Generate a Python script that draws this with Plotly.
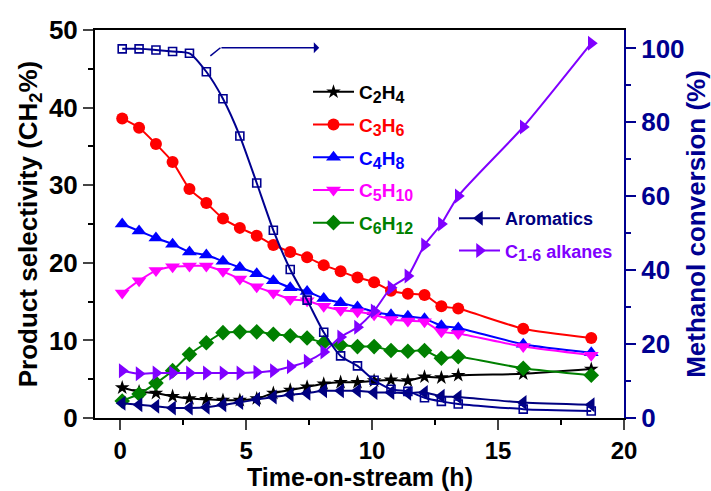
import plotly.graph_objects as go

# ---- data ----
time_h = [0.08, 0.75, 1.42, 2.08, 2.75, 3.42, 4.08, 4.75, 5.42, 6.08, 6.75, 7.42,
          8.08, 8.75, 9.42, 10.08, 10.75, 11.42, 12.08, 12.75, 13.42, 16.0, 18.7]

c2h4 = [3.9, 3.4, 3.2, 2.8, 2.5, 2.4, 2.3, 2.3, 2.5, 3.2, 3.6, 4.0, 4.4, 4.6, 4.6,
        4.8, 4.9, 4.8, 5.3, 5.2, 5.5, 5.7, 6.3]
c3h6 = [38.6, 37.4, 35.3, 33.0, 29.5, 27.7, 25.7, 24.5, 23.5, 22.3, 21.4, 20.7, 19.7,
        18.9, 18.1, 17.5, 16.4, 16.0, 15.85, 14.4, 14.1, 11.5, 10.3]
c4h8 = [25.0, 24.1, 23.2, 22.4, 21.4, 21.0, 20.2, 19.4, 18.6, 17.7, 16.8, 16.3, 15.4,
        14.85, 14.3, 13.7, 13.3, 13.1, 12.8, 11.9, 11.6, 9.5, 8.4]
c5h10 = [16.1, 17.7, 19.0, 19.5, 19.6, 19.6, 18.9, 17.9, 16.9, 16.1, 15.3, 15.1, 14.4,
         13.9, 13.7, 13.3, 12.7, 12.5, 12.4, 11.1, 10.9, 9.2, 8.1]
c6h12 = [2.2, 3.1, 4.5, 6.1, 8.2, 9.7, 11.0, 11.1, 11.1, 10.8, 10.6, 10.3, 9.7, 9.4,
         9.2, 9.2, 8.7, 8.6, 8.7, 7.7, 7.9, 6.4, 5.5]
aromatics = [1.9, 1.7, 1.5, 1.3, 1.3, 1.4, 1.7, 2.0, 2.4, 2.7, 3.0, 3.2, 3.5, 3.5, 3.5,
             3.3, 3.3, 3.2, 3.3, 2.8, 2.7, 2.0, 1.7]
alkanes = [6.1, 5.7, 5.8, 5.8, 5.8, 5.8, 5.8, 5.8, 5.9, 6.1, 6.6, 7.3, 8.5, 10.45,
           11.7, 13.8, 16.8, 18.3, 22.3, 25.0, 28.6, 37.5, 48.3]
conversion = [99.9, 99.9, 99.6, 99.2, 98.7, 93.7, 86.4, 76.3, 63.6, 50.8, 40.2, 31.9,
              23.2, 16.8, 14.1, 10.2, 7.8, 7.2, 5.5, 4.5, 3.8, 2.4, 1.9]

x_ticks = [0, 5, 10, 15, 20]
y_ticks = [0, 10, 20, 30, 40, 50]
y2_ticks = [0, 20, 40, 60, 80, 100]

FONT = "Arial, Liberation Sans, sans-serif"
NAVY = "#000090"


def sub(s):
    return f'<sub><span style="font-size:16px">{s}</span></sub>'


series = [
    ("C" + sub("2") + "H" + sub("4"), c2h4, "#000000", "star", 11, "legend"),
    ("C" + sub("3") + "H" + sub("6"), c3h6, "#FF0000", "circle", 12, "legend"),
    ("C" + sub("4") + "H" + sub("8"), c4h8, "#0000FF", "triangle-up", 13, "legend"),
    ("C" + sub("5") + "H" + sub("10"), c5h10, "#FF00FF", "triangle-down", 13, "legend"),
    ("C" + sub("6") + "H" + sub("12"), c6h12, "#008000", "diamond", 12, "legend"),
    ("Aromatics", aromatics, "#000080", "triangle-left", 13, "legend2"),
    ("C" + sub("1-6") + " alkanes", alkanes, "#8000FF", "triangle-right", 13, "legend2"),
]

fig = go.Figure()

for i, (name, vals, col, sym, size, lg) in enumerate(series):
    fig.add_trace(go.Scatter(
        x=time_h, y=vals, mode="lines+markers",
        name=f'<span style="color:{col}">{name}</span>',
        line=dict(color=col, width=2, shape="spline", smoothing=0.6),
        marker=dict(symbol=sym, size=size, color=col),
        legend=lg, legendgroup=f"g{i}",
    ))

fig.add_trace(go.Scatter(
    x=time_h, y=conversion, mode="lines+markers", yaxis="y2",
    line=dict(color=NAVY, width=2, shape="spline", smoothing=0.6),
    marker=dict(symbol="square-open", size=8, color=NAVY, line=dict(width=1.6)),
    showlegend=False,
))

# arrow pointing to right axis
fig.add_shape(type="line", xref="x", yref="y2", x0=3.58, y0=98.0, x1=3.98, y1=100.2,
              line=dict(color=NAVY, width=1.5))
fig.add_annotation(x=7.9, y=100.2, ax=3.96, ay=100.2, xref="x", yref="y2",
                   axref="x", ayref="y2", text="", showarrow=True,
                   arrowhead=1, arrowsize=1.2, arrowwidth=1.5, arrowcolor=NAVY)

# x-axis title as annotation for exact placement
fig.add_annotation(text="Time-on-stream (h)", xref="paper", yref="paper",
                   x=0.5, y=(418 - 477) / 388, xanchor="center", yanchor="middle",
                   showarrow=False, font=dict(size=25, weight="bold", color="black"))

axis_common = dict(showgrid=False, zeroline=False, linewidth=2, ticks="outside",
                   tickwidth=2, ticklen=10, automargin=False)

fig.update_layout(
    width=711, height=491,
    margin=dict(l=95, r=87, t=30, b=73),
    paper_bgcolor="white", plot_bgcolor="white",
    font=dict(family=FONT, color="black"),
    xaxis=dict(range=[-1, 20], tickvals=x_ticks, linecolor="black", mirror=True,
               tickfont=dict(size=24, weight="bold"),
               minor=dict(dtick=2.5, ticks="outside", ticklen=5, tickwidth=2,
                          tickcolor="black"),
               **axis_common),
    yaxis=dict(range=[0, 50], tickvals=y_ticks, linecolor="black",
               tickfont=dict(size=26, weight="bold"),
               title=dict(text="Product selectivity (CH<sub>2</sub>%)",
                          font=dict(size=26, weight="bold"), standoff=4),
               minor=dict(dtick=5, ticks="outside", ticklen=5, tickwidth=2,
                          tickcolor="black"),
               **axis_common),
    yaxis2=dict(range=[0, 105], tickvals=y2_ticks, overlaying="y", side="right",
                linecolor=NAVY, tickcolor=NAVY,
                tickfont=dict(size=26, weight="bold", color=NAVY),
                title=dict(text="Methanol conversion (%)",
                           font=dict(size=26, weight="bold", color=NAVY), standoff=4),
                minor=dict(dtick=10, ticks="outside", ticklen=5, tickwidth=2,
                           tickcolor=NAVY),
                **axis_common),
    legend=dict(x=(308 - 95) / 529, y=1 - (73 - 30) / 388, xanchor="left", yanchor="top",
                bgcolor="rgba(0,0,0,0)", font=dict(size=19, weight="bold"),
                itemwidth=41, tracegroupgap=5),
    legend2=dict(x=(454 - 95) / 529, y=1 - (200 - 30) / 388, xanchor="left",
                 yanchor="top", bgcolor="rgba(0,0,0,0)",
                 font=dict(size=18, weight="bold"), itemwidth=41, tracegroupgap=6),
)

fig.write_html("out.html")
